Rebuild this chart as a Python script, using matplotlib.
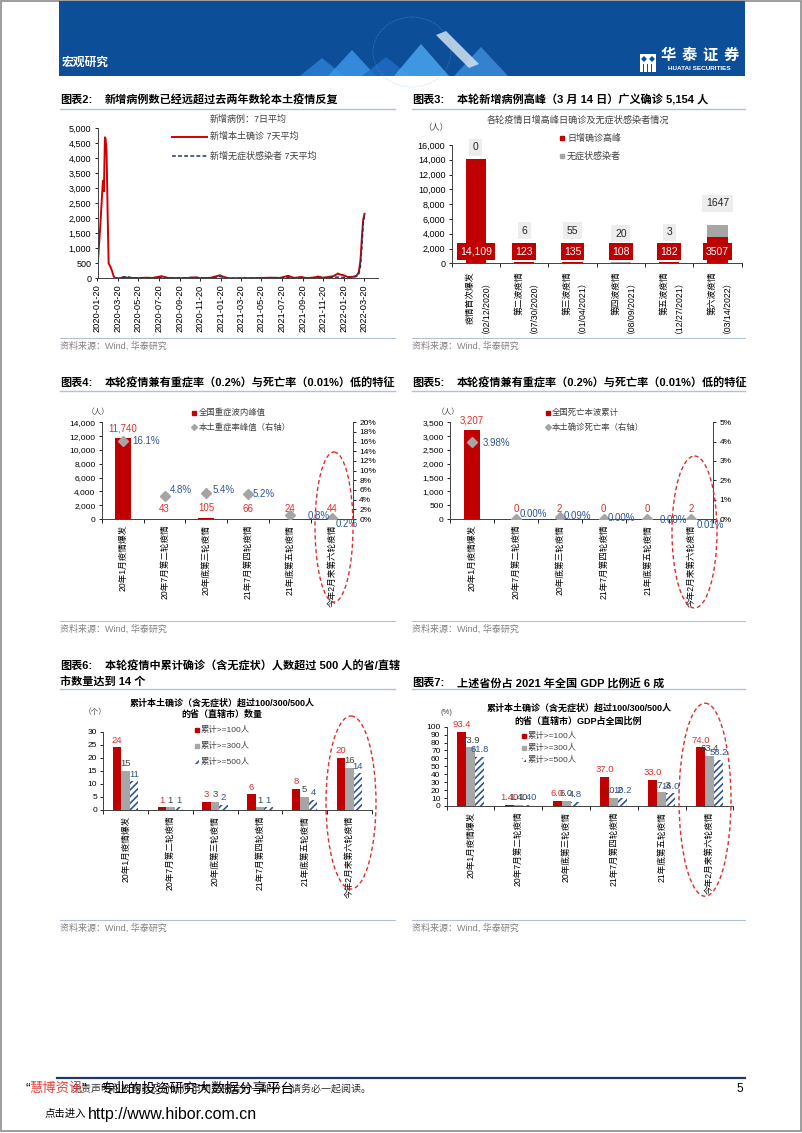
import numpy as np
import pandas as pd
import matplotlib
matplotlib.use('Agg')
import matplotlib.pyplot as plt
from matplotlib.patches import Rectangle, Ellipse, Polygon
from matplotlib.ticker import MultipleLocator, FuncFormatter

plt.rcParams['font.family'] = ['Liberation Sans', 'Noto Sans CJK SC']
plt.rcParams['hatch.linewidth'] = 1.2
plt.rcParams['axes.unicode_minus'] = False

W, H = 802, 1133

# chart 2: 7-day average of new local cases
conf_dates = ['2020-01-20', '2020-01-28', '2020-02-05', '2020-02-08', '2020-02-11', '2020-02-13',
              '2020-02-16', '2020-02-19', '2020-02-22', '2020-02-27', '2020-03-03', '2020-03-08',
              '2020-03-13', '2020-03-25', '2020-04-15', '2020-05-15', '2020-06-15', '2020-07-01',
              '2020-07-28', '2020-08-15', '2020-09-20', '2020-10-20', '2020-11-01', '2020-11-20',
              '2020-12-20', '2021-01-17', '2021-01-25', '2021-02-10', '2021-03-20', '2021-05-20',
              '2021-06-15', '2021-07-15', '2021-08-07', '2021-08-25', '2021-09-15', '2021-10-01',
              '2021-10-25', '2021-11-04', '2021-11-20', '2021-12-08', '2021-12-20', '2022-01-02',
              '2022-01-10', '2022-01-17', '2022-02-01', '2022-02-15', '2022-02-26', '2022-03-05',
              '2022-03-10', '2022-03-15', '2022-03-18', '2022-03-22']
conf_avg = [350, 1700, 3250, 2900, 4700, 4650,
            4200, 2200, 500, 390, 250, 60,
            10, 5, 25, 5, 20, 10,
            70, 10, 5, 10, 30, 5,
            15, 100, 60, 5, 3, 10,
            20, 10, 85, 10, 45, 5,
            30, 60, 15, 50, 70, 160,
            120, 110, 40, 50, 80, 200,
            600, 1500, 1950, 2150]
asym_dates = ['2020-04-01', '2020-04-15', '2020-05-01', '2020-06-15', '2020-07-28', '2020-09-20',
              '2020-11-01', '2020-12-20', '2021-01-17', '2021-02-10', '2021-05-20', '2021-08-07',
              '2021-09-15', '2021-11-04', '2022-01-02', '2022-02-01', '2022-02-26', '2022-03-05',
              '2022-03-10', '2022-03-15', '2022-03-18', '2022-03-22']
asym_avg = [40, 55, 15, 10, 30, 10,
            35, 5, 60, 5, 10, 30,
            10, 20, 40, 20, 60, 150,
            400, 1200, 1800, 2100]

# chart 3
wave_names = ['疫情首次爆发\n（02/12/2020）', '第二波疫情\n（07/30/2020）', '第三波疫情\n（01/04/2021）',
              '第四波疫情\n（08/09/2021）', '第五波疫情\n（12/27/2021）', '第六波疫情\n（03/14/2022）']
wave_confirmed = [14109, 123, 135, 108, 182, 3507]
wave_asym = [0, 6, 55, 20, 3, 1647]

# charts 4-7
rounds = ['20年1月疫情爆发', '20年7月第二轮疫情', '20年底第三轮疫情',
          '21年7月第四轮疫情', '21年底第五轮疫情', '今年2月来第六轮疫情']
severe_peak = [11740, 43, 105, 66, 24, 44]
severe_rate = [16.1, 4.8, 5.4, 5.2, 0.8, 0.2]
deaths = [3207, 0, 2, 0, 0, 2]
death_rate = [3.98, 0.00, 0.09, 0.00, 0.00, 0.01]
prov_100 = [24, 1, 3, 6, 8, 20]
prov_300 = [15, 1, 3, 1, 5, 16]
prov_500 = [11, 1, 2, 1, 4, 14]
gdp_100 = [93.4, 1.40, 6.0, 37.0, 33.0, 74.0]
gdp_300 = [73.9, 1.40, 6.0, 10.2, 17.3, 63.4]
gdp_500 = [61.8, 1.40, 4.8, 10.2, 16.0, 58.2]
gdp_decimals = [1, 2, 1, 1, 1, 1]

RED = '#C00000'
LRED = '#DE2E2A'
GRAY = '#A6A6A6'
BLUE = '#2F5597'
NAVY = '#1F3864'
RULE = '#AFC1DA'
SRC = '#808080'


def rect(x0, y0, x1, y1):
    return [x0 / W, 1 - y1 / H, (x1 - x0) / W, (y1 - y0) / H]


fig = plt.figure(figsize=(W / 100, H / 100), dpi=100)

page = fig.add_axes([0, 0, 1, 1])
page.set_xlim(0, W)
page.set_ylim(H, 0)
page.axis('off')
page.patch.set_visible(False)
page.set_zorder(5)


def ptext(x, y, s, **kw):
    kw.setdefault('va', 'center')
    kw.setdefault('ha', 'left')
    page.text(x, y, s, **kw)


def style(ax, fs=6):
    ax.spines['top'].set_visible(False)
    ax.spines['right'].set_visible(False)
    for s in ['left', 'bottom']:
        ax.spines[s].set_color('#404040')
        ax.spines[s].set_linewidth(0.7)
    ax.tick_params(labelsize=fs, length=2.5, width=0.6, pad=2, colors='#000000')
    ax.patch.set_visible(False)


def cat_axis(ax, labels, fs=5.5, pad=3, malign='center'):
    n = len(labels)
    ax.set_xlim(-0.5, n - 0.5)
    ax.set_xticks(np.arange(n + 1) - 0.5)
    ax.set_xticklabels([])
    ax.set_xticks(np.arange(n), labels, minor=True)
    ax.tick_params(axis='x', which='major', length=3, width=0.6)
    ax.tick_params(axis='x', which='minor', length=0, pad=pad, labelsize=fs, labelrotation=90)
    for t in ax.get_xticklabels(minor=True):
        t.set_multialignment(malign)


def block(x0, x1, y_title, y_rule, y_src, num, title, title2=None):
    ptext(x0, y_title, '图表%d:' % num, fontsize=8, fontweight='bold')
    ptext(x0 + 45, y_title, title, fontsize=8, fontweight='bold')
    if title2:
        ptext(x0, y_title + 15, title2, fontsize=8, fontweight='bold')
    page.plot([x0, x1], [y_rule, y_rule], color=RULE, lw=1)
    page.plot([x0, x1], [y_src, y_src], color=RULE, lw=0.8)
    ptext(x0, y_src + 8, '资料来源：Wind, 华泰研究', fontsize=6.5, color=SRC)


comma = FuncFormatter(lambda v, p: f'{v:,.0f}')
pct = FuncFormatter(lambda v, p: f'{v:.0f}%')

# ---------------- page frame, banner, footer ----------------
page.add_patch(Rectangle((1, 1), W - 2, H - 3, fill=False, ec='#8C8C8C', lw=1.2))
page.add_patch(Rectangle((59, 1), 686, 75, fc='#0D4E98', ec='none'))
deco = [([(300, 76), (322, 58), (344, 76)], '#2B7ED3'),
        ([(328, 76), (352, 50), (376, 76)], '#3C95E6'),
        ([(362, 76), (386, 57), (410, 76)], '#1F6CC2'),
        ([(394, 76), (421, 44), (449, 76)], '#4AA5EF'),
        ([(454, 76), (481, 47), (508, 76)], '#3A8BD9'),
        ([(436, 35), (446, 31), (479, 64), (469, 68)], '#D3E2F3')]
for pts, c in deco:
    page.add_patch(Polygon(pts, closed=True, fc=c, ec='none', alpha=0.85))
page.add_patch(Ellipse((412, 52), 78, 70, fill=False, ec='#77B5F0', lw=0.5, ls=':', alpha=0.7))
ptext(62, 63, '宏观研究', fontsize=8.5, color='white', fontweight='bold')
page.add_patch(Rectangle((640, 54), 16, 18, fc='white', ec='none'))
page.add_patch(Polygon([(644, 56), (647, 59), (644, 62), (641, 59)], fc='#0D4E98', ec='none'))
page.add_patch(Polygon([(652, 56), (655, 59), (652, 62), (649, 59)], fc='#0D4E98', ec='none'))
for bx in [642.5, 646.5, 650.5]:
    page.add_patch(Rectangle((bx, 64), 1.6, 8, fc='#0D4E98', ec='none'))
for i, ch in enumerate('华泰证券'):
    ptext(668 + i * 21, 56, ch, ha='center', fontsize=11, color='white', fontweight='bold')
ptext(699, 68.5, 'HUATAI SECURITIES', ha='center', fontsize=4.6, color='white', fontweight='bold')

page.plot([57, 745], [1077.5, 1077.5], color=NAVY, lw=1.6)
ptext(740, 1089, '5', ha='center', fontsize=8.5)
ptext(72, 1089.5, '免责声明和披露以及分析师声明是报告的一部分，请务必一起阅读。', fontsize=7.2, color='#333333')
ptext(25, 1088.5, '“', fontsize=10)
ptext(29, 1088.5, '慧博资讯', fontsize=9.6, color='#E8423F')
ptext(82, 1088.5, '”', fontsize=10)
ptext(100, 1088.5, '专业的投资研究大数据分享平台', fontsize=10)
ptext(45, 1114, '点击进入', fontsize=7.5)
ptext(88, 1114, 'http://www.hibor.com.cn', fontsize=11.5)

# ---------------- chart 2 ----------------
block(60, 395, 100, 108.5, 338, 2, '新增病例数已经远超过去两年数轮本土疫情反复')
ax2 = fig.add_axes(rect(97.5, 128.3, 378, 278.3))
style(ax2, 6.5)
ax2.plot(pd.to_datetime(conf_dates), conf_avg, color='#D00000', lw=1.4)
ax2.plot(pd.to_datetime(asym_dates), asym_avg, color=NAVY, lw=1.1, ls=(0, (2.5, 1.5)))
ax2.set_xlim(pd.Timestamp('2020-01-20'), pd.Timestamp('2022-05-01'))
ax2.set_ylim(0, 5000)
ax2.yaxis.set_major_locator(MultipleLocator(500))
ax2.yaxis.set_major_formatter(comma)
dticks = pd.date_range('2020-01-20', '2022-03-20', freq=pd.DateOffset(months=2))
ax2.set_xticks(dticks)
ax2.set_xticklabels([d.strftime('%Y-%m-%d') for d in dticks], rotation=90, fontsize=6.7)
ptext(210, 119.5, '新增病例：7日平均', fontsize=6.5, color='#404040')
page.plot([172, 207], [136.7, 136.7], color='#D00000', lw=1.4)
ptext(210, 136.7, '新增本土确诊 7天平均', fontsize=6.5, color='#404040')
page.plot([172, 207], [156, 156], color=NAVY, lw=1.1, ls=(0, (2.5, 1.5)))
ptext(210, 156, '新增无症状感染者 7天平均', fontsize=6.5, color='#404040')

# ---------------- chart 3 ----------------
block(412, 745, 100, 108.5, 338, 3, '本轮新增病例高峰（3 月 14 日）广义确诊 5,154 人')
ptext(577.5, 120, '各轮疫情日增高峰日确诊及无症状感染者情况', ha='center', fontsize=6.6, color='#404040')
ptext(436, 127, '（人）', ha='center', fontsize=6, color='#404040')
ax3 = fig.add_axes(rect(451.7, 145, 741.7, 263.3))
style(ax3, 6.5)
x = np.arange(6)
ax3.bar(x, wave_confirmed, width=0.42, color=RED)
ax3.bar(x, wave_asym, width=0.42, bottom=wave_confirmed, color=GRAY)
ax3.set_ylim(0, 16000)
ax3.yaxis.set_major_locator(MultipleLocator(2000))
ax3.yaxis.set_major_formatter(comma)
cat_axis(ax3, wave_names, fs=6.3, pad=6, malign='right')
asym_label_y = [15700, 4400, 4400, 4000, 4200, 8100]
for i in range(6):
    v = wave_confirmed[i]
    s = f'{v:,}' if v >= 10000 else str(v)
    ax3.text(i, 1580, s, ha='center', va='center', fontsize=7.5, color='white',
             bbox=dict(boxstyle='square,pad=0.3', fc=RED, ec='none'))
    ax3.text(i, asym_label_y[i], str(wave_asym[i]), ha='center', va='center', fontsize=7.5,
             color='#262626', clip_on=False,
             bbox=dict(boxstyle='square,pad=0.35', fc='#EDEDED', ec='none'))
page.plot([562], [138], marker='s', ms=3.5, color=RED, ls='none')
ptext(567, 138, '日增确诊高峰', fontsize=6.5, color='#404040')
page.plot([562], [156], marker='s', ms=3.5, color=GRAY, ls='none')
ptext(567, 156, '无症状感染者', fontsize=6.5, color='#404040')


# ---------------- charts 4 and 5 ----------------
def bar_rate(ax, bars, rates, ymax, ystep, rmax, rstep, offsets, fmt):
    style(ax, 6)
    ax.bar(x, bars, width=0.38, color=RED)
    ax.set_ylim(0, ymax)
    ax.yaxis.set_major_locator(MultipleLocator(ystep))
    ax.yaxis.set_major_formatter(comma)
    cat_axis(ax, rounds, fs=6.2, pad=4)
    for i, v in enumerate(bars):
        ax.annotate(f'{v:,}', (i, v), xytext=(0, 3.5), textcoords='offset points',
                    ha='center', va='bottom', fontsize=7, color=LRED)
    axr = ax.twinx()
    axr.spines['top'].set_visible(False)
    axr.spines['left'].set_visible(False)
    axr.spines['bottom'].set_visible(False)
    axr.spines['right'].set_color('#404040')
    axr.spines['right'].set_linewidth(0.7)
    axr.tick_params(labelsize=6, length=2.5, width=0.6, pad=2)
    axr.plot(x, rates, ls='none', marker='D', ms=5.5, color='#A5A5A5')
    axr.set_ylim(0, rmax)
    axr.yaxis.set_major_locator(MultipleLocator(rstep))
    axr.yaxis.set_major_formatter(pct)
    for i, r in enumerate(rates):
        dx, dy = offsets[i]
        axr.annotate(fmt.format(r), (i, r), xytext=(dx * 0.72, -dy * 0.72), textcoords='offset points',
                     ha='left', va='center', fontsize=7, color=BLUE, annotation_clip=False)


block(60, 395, 383, 390.7, 620.7, 4, '本轮疫情兼有重症率（0.2%）与死亡率（0.01%）低的特征')
ax4 = fig.add_axes(rect(101.7, 422.3, 353, 519))
bar_rate(ax4, severe_peak, severe_rate, 14000, 2000, 20, 2,
         [(10, 0), (5, -6), (6, -3), (4, 0), (17, 1), (4, 6)], '{:.1f}%')
ptext(98.5, 412.7, '（人）', ha='center', fontsize=5.5, color='#404040')
page.plot([194.3], [412.7], marker='s', ms=3, color=RED, ls='none')
ptext(198.5, 412.7, '全国重症波内峰值', fontsize=6, color='#404040')
page.plot([194.3], [427.3], marker='D', ms=3, color='#A5A5A5', ls='none')
ptext(198.5, 427.3, '本土重症率峰值（右轴）', fontsize=6, color='#404040')
page.add_patch(Ellipse((334, 527), 38, 150, fill=False, ec=LRED, lw=1, ls=(0, (3, 2))))

block(412, 745, 383, 390.7, 620.7, 5, '本轮疫情兼有重症率（0.2%）与死亡率（0.01%）低的特征')
ax5 = fig.add_axes(rect(450, 422.3, 713.3, 519))
bar_rate(ax5, deaths, death_rate, 3500, 500, 5, 1,
         [(11, 1), (4, -5), (4, -1), (4, -1), (12, 1), (5, 6)], '{:.2f}%')
ptext(448.5, 412.3, '（人）', ha='center', fontsize=5.5, color='#404040')
page.plot([547.7], [412.7], marker='s', ms=3, color=RED, ls='none')
ptext(551.7, 412.7, '全国死亡本波累计', fontsize=6, color='#404040')
page.plot([547.7], [427.3], marker='D', ms=3, color='#A5A5A5', ls='none')
ptext(551.7, 427.3, '本土确诊死亡率（右轴）', fontsize=6, color='#404040')
page.add_patch(Ellipse((694.5, 532), 45, 152, fill=False, ec=LRED, lw=1, ls=(0, (3, 2))))


# ---------------- charts 6 and 7 ----------------
def grouped(ax, s100, s300, s500, ymax, ystep, labels100, labels300, labels500):
    style(ax, 6)
    bw = 0.19
    ax.bar(x - bw, s100, width=bw, color=RED)
    ax.bar(x, s300, width=bw, color=GRAY)
    ax.bar(x + bw, s500, width=bw, color='white', hatch='/////', edgecolor=BLUE, lw=0)
    ax.set_ylim(0, ymax)
    ax.yaxis.set_major_locator(MultipleLocator(ystep))
    cat_axis(ax, rounds, fs=6.2, pad=4)
    for off, vals, labs, c in [(-bw, s100, labels100, LRED), (0, s300, labels300, '#404040'),
                               (bw, s500, labels500, BLUE)]:
        for i, v in enumerate(vals):
            ax.annotate(labs[i], (i + off, v), xytext=(0, 2), textcoords='offset points',
                        ha='center', va='bottom', fontsize=6.8, color=c)


def legend3(x0, ys, fs=6):
    page.plot([x0], [ys[0]], marker='s', ms=3, color=RED, ls='none')
    page.plot([x0], [ys[1]], marker='s', ms=3, color=GRAY, ls='none')
    page.add_patch(Rectangle((x0 - 2, ys[2] - 2), 4, 4, fc='white', ec=BLUE, lw=0, hatch='/////'))
    for y, s in zip(ys, ['累计>=100人', '累计>=300人', '累计>=500人']):
        ptext(x0 + 4, y, s, fontsize=fs, color='#404040')


block(60, 395, 666, 689.3, 920, 6, '本轮疫情中累计确诊（含无症状）人数超过 500 人的省/直辖',
      '市数量达到 14 个')
ptext(222, 702.7, '累计本土确诊（含无症状）超过100/300/500人', ha='center', fontsize=6.5, fontweight='bold')
ptext(222, 714.5, '的省（直辖市）数量', ha='center', fontsize=6.5, fontweight='bold')
ptext(95.5, 712.7, '（个）', ha='center', fontsize=5.5, color='#404040')
ax6 = fig.add_axes(rect(103.3, 731.7, 371.7, 810))
grouped(ax6, prov_100, prov_300, prov_500, 30, 5,
        [str(v) for v in prov_100], [str(v) for v in prov_300], [str(v) for v in prov_500])
legend3(197, [730, 745.7, 761.7])
page.add_patch(Ellipse((351, 802.5), 50, 173, fill=False, ec=LRED, lw=1, ls=(0, (3, 2))))

block(412, 745, 683, 689.3, 920, 7, '上述省份占 2021 年全国 GDP 比例近 6 成')
ptext(579, 708.3, '累计本土确诊（含无症状）超过100/300/500人', ha='center', fontsize=6.5, fontweight='bold')
ptext(578, 720.7, '的省（直辖市）GDP占全国比例', ha='center', fontsize=6.5, fontweight='bold')
ptext(446, 712.7, '(%)', ha='center', fontsize=5.5, color='#404040')
ax7 = fig.add_axes(rect(446.7, 726.7, 733.3, 806))
fmt = lambda vals: [f'{v:.{d}f}' for v, d in zip(vals, gdp_decimals)]
grouped(ax7, gdp_100, gdp_300, gdp_500, 100, 10, fmt(gdp_100), fmt(gdp_300), fmt(gdp_500))
legend3(524, [736, 748.3, 760])
page.add_patch(Ellipse((705, 799.7), 52, 193, fill=False, ec=LRED, lw=1, ls=(0, (3, 2))))

fig.savefig('out.png', dpi=100)
